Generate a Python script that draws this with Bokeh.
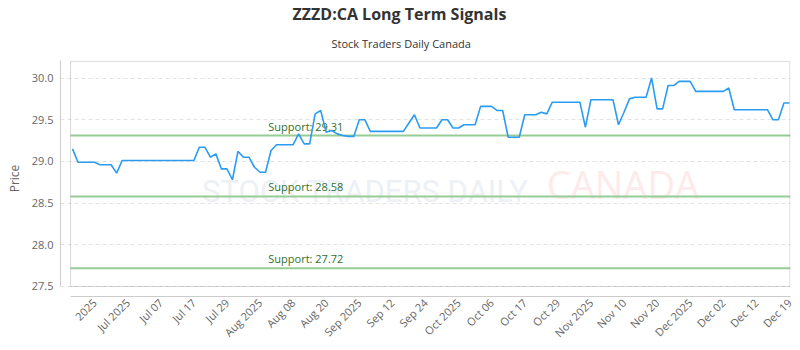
from bokeh.plotting import figure
from bokeh.models import Range1d, FixedTicker, BoxAnnotation, Label, Title, ColumnDataSource
from bokeh.core.properties import value
from bokeh.embed import file_html
from bokeh.resources import INLINE
from math import pi

# ---- data ----
prices = [
    29.15, 28.99, 28.99, 28.99, 28.99, 28.96, 28.96, 28.96, 28.86, 29.01,
    29.01, 29.01, 29.01, 29.01, 29.01, 29.01, 29.01, 29.01, 29.01, 29.01,
    29.01, 29.01, 29.01, 29.17, 29.17, 29.05, 29.09, 28.91, 28.91, 28.78,
    29.12, 29.05, 29.05, 28.93, 28.87, 28.87, 29.13, 29.20, 29.20, 29.20,
    29.20, 29.33, 29.21, 29.21, 29.57, 29.61, 29.35, 29.37, 29.33, 29.31,
    29.30, 29.30, 29.50, 29.50, 29.36, 29.36, 29.36, 29.36, 29.36, 29.36,
    29.36, 29.46, 29.56, 29.40, 29.40, 29.40, 29.40, 29.50, 29.50, 29.40,
    29.40, 29.44, 29.44, 29.44, 29.66, 29.66, 29.66, 29.61, 29.61, 29.29,
    29.29, 29.29, 29.56, 29.56, 29.56, 29.59, 29.57, 29.71, 29.71, 29.71,
    29.71, 29.71, 29.71, 29.41, 29.74, 29.74, 29.74, 29.74, 29.74, 29.44,
    29.59, 29.75, 29.77, 29.77, 29.77, 30.00, 29.63, 29.63, 29.91, 29.91,
    29.96, 29.96, 29.96, 29.84, 29.84, 29.84, 29.84, 29.84, 29.84, 29.88,
    29.62, 29.62, 29.62, 29.62, 29.62, 29.62, 29.62, 29.50, 29.50, 29.70,
    29.70,
]
tick_labels = [
    "2025", "Jul 2025", "Jul 07", "Jul 17", "Jul 29", "Aug 2025", "Aug 08",
    "Aug 20", "Sep 2025", "Sep 12", "Sep 24", "Oct 2025", "Oct 06", "Oct 17",
    "Oct 29", "Nov 2025", "Nov 10", "Nov 20", "Dec 2025", "Dec 02", "Dec 12",
    "Dec 19",
]
first_tick = 4
tick_step = 6
support_levels = [29.31, 28.58, 27.72]
y_ticks = [27.5, 28.0, 28.5, 29.0, 29.5, 30.0]

title_text = "ZZZD:CA Long Term Signals"
subtitle_text = "Stock Traders Daily Canada"

FONT = "Open Sans"

# ---- figure ----
x_start, x_end = -2.176, 130.19
y_start, y_end = 27.38, 30.21
box_left = -0.363

p = figure(
    width=800, height=350, output_backend="svg", toolbar_location=None,
    x_range=Range1d(x_start, x_end), y_range=Range1d(y_start, y_end),
    min_border_left=60, min_border_right=10, min_border_top=60,
    min_border_bottom=54, title=None,
    background_fill_color="white", border_fill_color="white",
)
p.outline_line_color = None

p.add_layout(Title(text=subtitle_text, align="left", offset=271, standoff=19,
                   text_font=FONT, text_font_size="11px", text_font_style="normal",
                   text_color="#333333"), "above")
p.add_layout(Title(text=title_text, align="left", offset=232, standoff=0,
                   text_font=FONT, text_font_size="16px", text_font_style="bold",
                   text_color="#333333"), "above")

# plot box
p.add_layout(BoxAnnotation(left=box_left, right=x_end - 0.1, bottom=27.5, top=y_end - 0.01,
                           fill_color=None, line_color="#808080", line_width=1))

# watermark (drawn beneath the data)
p.add_layout(Label(x=23.5, y=28.42, text="STOCK TRADERS DAILY", text_font="Roboto",
                   text_font_size="31px", text_font_style="normal", text_color="#edf0f5",
                   level="underlay"))
p.add_layout(Label(x=86.0, y=28.42, text="CANADA", text_font=FONT,
                   text_font_size="38px", text_font_style="normal", text_color="#fdeaea",
                   level="underlay"))

# grid
p.xgrid.visible = False
p.ygrid.ticker = FixedTicker(ticks=y_ticks)
p.ygrid.grid_line_color = "#e3e3e3"
p.ygrid.grid_line_dash = "4 3"

# support lines
sup = ColumnDataSource(dict(
    x0=[box_left] * len(support_levels), x1=[x_end] * len(support_levels),
    y=support_levels,
    label=[f"Support: {v:.2f}" for v in support_levels],
    lx=[35.5] * len(support_levels),
))
p.segment(x0="x0", y0="y", x1="x1", y1="y", source=sup, line_color="#96cc96", line_width=2)
p.text(x="lx", y="y", text="label", source=sup, text_font=value(FONT),
       text_font_size="11px", text_color="#2f6f2f", text_baseline="bottom", y_offset=-2)

# price line
x = list(range(len(prices)))
p.line(x, prices, line_color="#2b9cf2", line_width=1.6)

# axes
xa = p.xaxis[0]
ticks = list(range(first_tick, first_tick + tick_step * len(tick_labels), tick_step))
xa.ticker = FixedTicker(ticks=ticks)
xa.major_label_overrides = {t: lab for t, lab in zip(ticks, tick_labels)}
xa.major_label_orientation = pi / 4
xa.major_label_text_font = FONT
xa.major_label_text_font_size = "11px"
xa.major_label_text_color = "#666666"
xa.axis_line_color = "#cccccc"
xa.major_tick_line_color = None
xa.minor_tick_line_color = None
xa.major_tick_out = 0
xa.major_tick_in = 0
xa.minor_tick_out = 0
xa.major_label_standoff = 4
xa.bounds = (box_left, x_end)

ya = p.yaxis[0]
ya.ticker = FixedTicker(ticks=y_ticks)
ya.major_label_overrides = {v: f"{v:.1f}" for v in y_ticks}
ya.axis_label = "Price"
ya.axis_label_text_font = FONT
ya.axis_label_text_font_size = "12px"
ya.axis_label_text_font_style = "normal"
ya.axis_label_text_color = "#666666"
ya.axis_label_standoff = 6
ya.major_label_text_font = FONT
ya.major_label_text_font_size = "11px"
ya.major_label_text_color = "#666666"
ya.axis_line_color = "#cccccc"
ya.major_tick_line_color = None
ya.minor_tick_line_color = None
ya.major_tick_out = 0
ya.major_tick_in = 0
ya.minor_tick_out = 0
ya.major_label_standoff = 7
ya.bounds = (27.5, y_end)

open("out.html", "w").write(file_html(p, INLINE))
